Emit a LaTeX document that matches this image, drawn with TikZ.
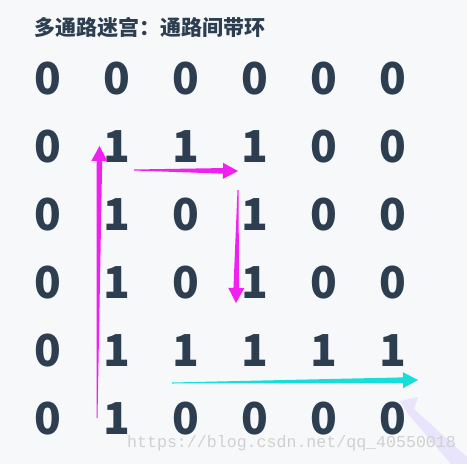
\documentclass[tikz,border=0pt]{standalone}
\usepackage{fontspec}
\newfontfamily\cjk{Noto Sans CJK SC}
\setmonofont{Liberation Mono}
\usetikzlibrary{calc}
\definecolor{bg}{RGB}{247,248,250}
\definecolor{ink}{RGB}{44,62,80}
\definecolor{mag}{RGB}{240,32,240}
\definecolor{cya}{RGB}{24,222,218}
\definecolor{lav}{RGB}{228,222,252}
\definecolor{wm}{RGB}{208,208,208}
\tikzset{
  digit/.style={inner sep=0pt, anchor=center, text=ink, font=\cjk\bfseries\fontsize{44}{44}\selectfont},
  title/.style={inner sep=0pt, anchor=west, text=ink, font=\cjk\bfseries\fontsize{21}{21}\selectfont},
  watermark/.style={inner sep=0pt, anchor=base west, text=wm, font=\ttfamily\fontsize{16.6}{16.6}\selectfont}
}
% tapered arrow: #1 start, #2 tip, #3 colour
\newcommand\taper[3]{%
  \coordinate (hb) at ($(#2)!15pt!(#1)$);
  \fill[#3] ($(#1)!0.5pt!90:(#2)$) -- ($(hb)!2.8pt!90:(#2)$) -- ($(hb)!8pt!90:(#2)$)
    -- (#2) -- ($(hb)!8pt!-90:(#2)$) -- ($(hb)!2.8pt!-90:(#2)$) -- ($(#1)!0.5pt!-90:(#2)$) -- cycle;
}
\begin{document}
\begin{tikzpicture}[x=1pt,y=-1pt]
\fill[bg] (0,0) rectangle (467,464);
\useasboundingbox (0,0) rectangle (467,464);
\node[title] (t) at (34,28) {多通路迷宫：通路间带环};
% grid
\def\rowsA{{0,0,0,0,0,0},{0,1,1,1,0,0},{0,1,0,1,0,0},{0,1,0,1,0,0},{0,1,1,1,1,1},{0,1,0,0,0,0}}
\foreach \r/\vals in {1/{0,0,0,0,0,0},2/{0,1,1,1,0,0},3/{0,1,0,1,0,0},4/{0,1,0,1,0,0},5/{0,1,1,1,1,1},6/{0,1,0,0,0,0}}{
  \foreach \v [count=\c] in \vals {
    \node[digit] (d\r\c) at ({47.5+69*(\c-1)},{78.5+68*(\r-1)}) {\v};
  }
}
% arrows
\coordinate (a1s) at (97,418);
\coordinate (a1t) at (99.5,146);
\coordinate (a2s) at (134,170);
\coordinate (a2t) at (238,171);
\coordinate (a3s) at (238,190);
\coordinate (a3t) at (236,303);
\coordinate (a4s) at (172,383);
\coordinate (a4t) at (418,380);
\taper{a1s}{a1t}{mag}
\taper{a2s}{a2t}{mag}
\taper{a3s}{a3t}{mag}
\taper{a4s}{a4t}{cya}
% faint arrow bottom right
\fill[lav, opacity=0.75] (400,401) -- (418,397) -- (414,409) -- (467,457) -- (467,464) -- (451,464) -- (408,414) -- cycle;
% watermark
\node[watermark] (w) at (127,447) {https://blog.csdn.net/qq\_40550018};
\end{tikzpicture}
\end{document}
